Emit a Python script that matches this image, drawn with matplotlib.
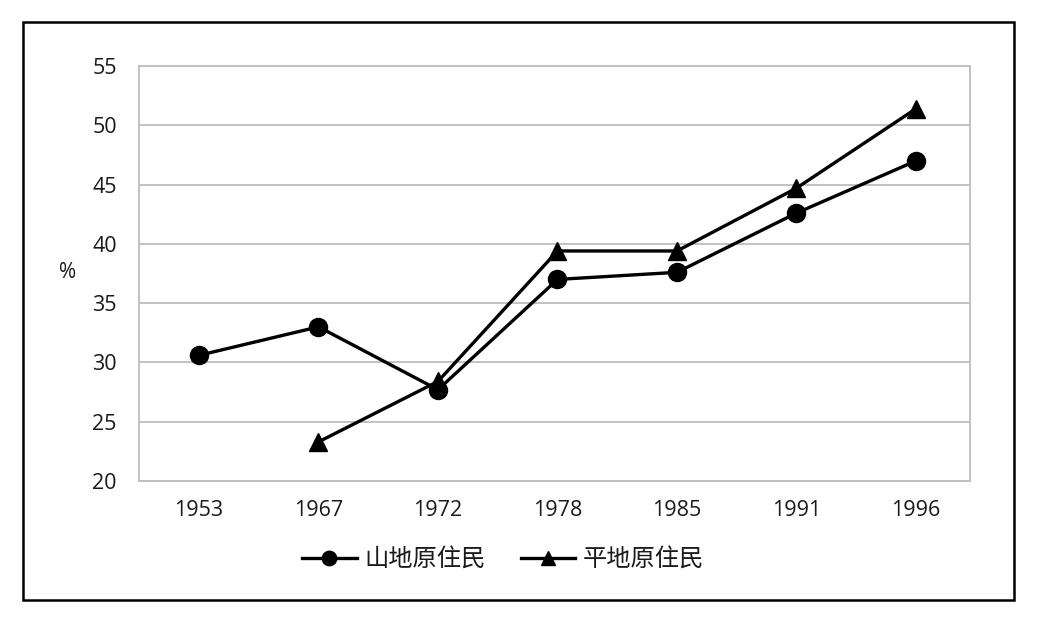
import matplotlib.pyplot as plt
from matplotlib.patches import Rectangle

plt.rcParams['font.family'] = ['Open Sans', 'Noto Sans CJK TC', 'DejaVu Sans']

years = ['1953', '1967', '1972', '1978', '1985', '1991', '1996']
mountain = [30.6, 33.0, 27.7, 37.0, 37.6, 42.6, 47.0]  # 山地原住民
plain = [None, 23.3, 28.4, 39.4, 39.4, 44.7, 51.4]    # 平地原住民

fig = plt.figure(figsize=(10.38, 6.23), dpi=100)
ax = fig.add_axes([139/1038, 1 - 481/623, (970 - 139)/1038, (481 - 66)/623])

x = list(range(len(years)))
ax.plot(x, mountain, color='black', lw=2.4, marker='o', ms=13, label='山地原住民')
xp = [i for i, v in zip(x, plain) if v is not None]
yp = [v for v in plain if v is not None]
ax.plot(xp, yp, color='black', lw=2.4, marker='^', ms=13, label='平地原住民')

ax.set_xlim(-0.502, 6.452)
ax.set_ylim(20, 55)
ax.set_yticks(range(20, 56, 5))
ax.set_xticks(x)
ax.set_xticklabels(years)
ax.grid(axis='y', color='#bdbdbd', lw=1.3)
ax.set_axisbelow(True)
for s in ax.spines.values():
    s.set_color('#bdbdbd')
    s.set_linewidth(1.3)
ax.tick_params(length=0, labelsize=15.5, colors='#1a1a1a')
ax.tick_params(axis='y', pad=16)
ax.tick_params(axis='x', pad=14)

fig.text(68/1038, 1 - 272/623, '%', fontsize=15, ha='center', va='center', color='#1a1a1a')

leg = ax.legend(loc='center', bbox_to_anchor=(503/1038, 1 - 560/623), bbox_transform=fig.transFigure,
                ncol=2, frameon=False, fontsize=17.5, handlelength=2.25, columnspacing=1.45,
                handletextpad=0.3, markerscale=0.8)
for t in leg.get_texts():
    t.set_family(['Noto Sans CJK TC', 'DejaVu Sans'])
    t.set_color('#1a1a1a')

fig.patches.append(Rectangle((23/1038, 1 - 600/623), (1014 - 23)/1038, (600 - 22)/623,
                             transform=fig.transFigure, fill=False, ec='black', lw=1.8))

fig.savefig('out.png', dpi=100)
